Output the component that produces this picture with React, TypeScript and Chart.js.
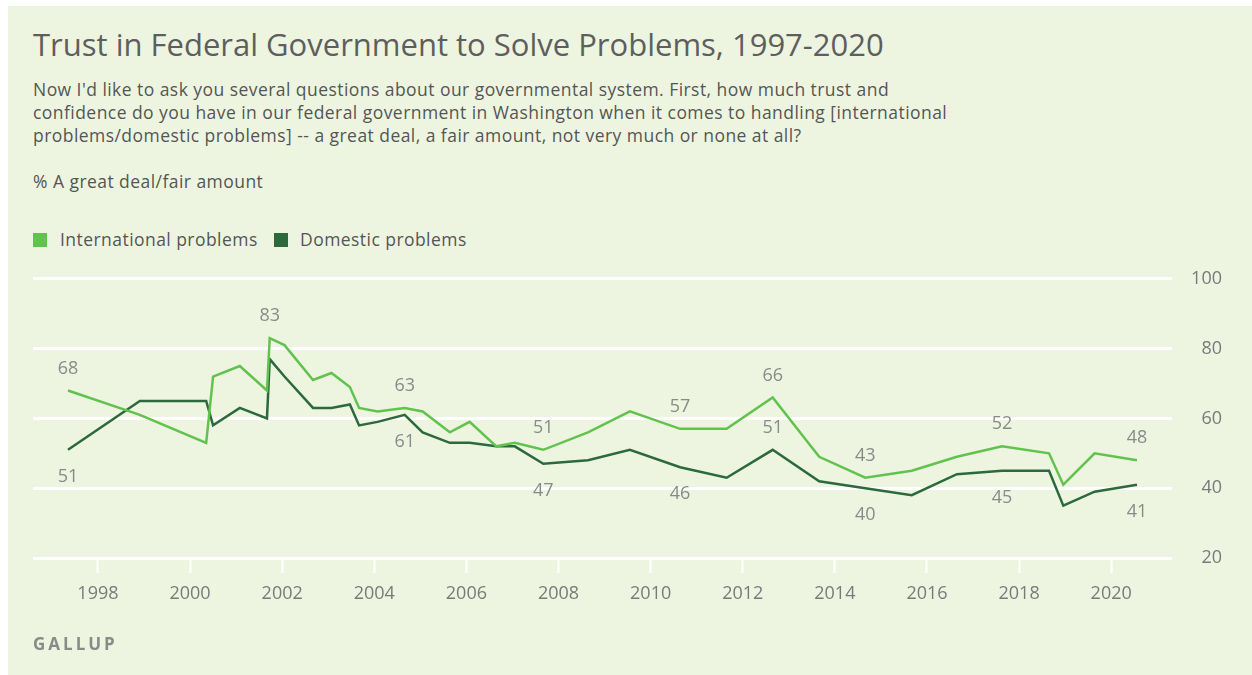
import React, { useEffect, useRef } from "react";
import { Chart, registerables } from "chart.js";

Chart.register(...registerables);

// ---- data ----
const years = [
  1997.35, 1998.91, 2000.35, 2000.5, 2001.08, 2001.67, 2001.73, 2002.05, 2002.67, 2003.07,
  2003.47, 2003.67, 2004.07, 2004.66, 2005.05, 2005.64, 2006.07, 2006.65, 2007.05, 2007.67,
  2008.64, 2009.55, 2010.64, 2011.65, 2012.65, 2013.66, 2014.66, 2015.67, 2016.65, 2017.63,
  2018.65, 2018.96, 2019.64, 2020.56,
];
const international = [
  68, 61, 53, 72, 75, 68, 83, 81, 71, 73, 69, 63, 62, 63, 62, 56, 59, 52, 53, 51, 56, 62, 57,
  57, 66, 49, 43, 45, 49, 52, 50, 41, 50, 48,
];
const domestic = [
  51, 65, 65, 58, 63, 60, 77, 72, 63, 63, 64, 58, 59, 61, 56, 53, 53, 52, 52, 47, 48, 51, 46,
  43, 51, 42, 40, 38, 44, 45, 45, 35, 39, 41,
];
const xTickYears = [1998, 2000, 2002, 2004, 2006, 2008, 2010, 2012, 2014, 2016, 2018, 2020];
const yTicks = [20, 40, 60, 80, 100];
const seriesNames = ["International problems", "Domestic problems"];
// indices of points that carry a value label
const intlLabelIdx = [0, 6, 13, 19, 22, 24, 26, 29, 33];
const domLabelIdx = [0, 13, 19, 22, 24, 26, 29, 33];
const domLabelAboveIdx = [24];

const LIGHT = "#62c24e";
const DARK = "#2c6a3d";
const BG = "#edf5e0";
const FONT = "'Open Sans', 'DejaVu Sans', sans-serif";

const labelPlugin = {
  id: "valueLabels",
  afterDatasetsDraw(chart: any) {
    const ctx = chart.ctx;
    ctx.save();
    ctx.font = `18px ${FONT}`;
    ctx.fillStyle = "#8a8a8a";
    ctx.textAlign = "center";
    ctx.textBaseline = "middle";
    const m0 = chart.getDatasetMeta(0);
    intlLabelIdx.forEach((i) => {
      const p = m0.data[i];
      ctx.fillText(String(international[i]), p.x, p.y - 22);
    });
    const m1 = chart.getDatasetMeta(1);
    domLabelIdx.forEach((i) => {
      const p = m1.data[i];
      const above = domLabelAboveIdx.includes(i);
      ctx.fillText(String(domestic[i]), p.x, above ? p.y - 22 : p.y + 27);
    });
    ctx.restore();
  },
};

export default function App() {
  const ref = useRef<HTMLCanvasElement | null>(null);

  useEffect(() => {
    if (!ref.current) return;
    const chart = new Chart(ref.current, {
      type: "line",
      data: {
        datasets: [
          {
            label: seriesNames[0],
            data: years.map((x, i) => ({ x, y: international[i] })),
            borderColor: LIGHT,
            backgroundColor: LIGHT,
            borderWidth: 2.5,
            pointRadius: 0,
            tension: 0,
          },
          {
            label: seriesNames[1],
            data: years.map((x, i) => ({ x, y: domestic[i] })),
            borderColor: DARK,
            backgroundColor: DARK,
            borderWidth: 2.5,
            pointRadius: 0,
            tension: 0,
          },
        ],
      },
      options: {
        responsive: false,
        animation: false,
        devicePixelRatio: 1,
        layout: { padding: { left: 33, right: 30, top: 0, bottom: 0 } },
        plugins: {
          legend: { display: false },
          tooltip: { enabled: false },
          title: { display: false },
        },
        scales: {
          x: {
            type: "linear",
            min: 1996.59,
            max: 2021.32,
            afterBuildTicks: (axis: any) => {
              axis.ticks = xTickYears.map((v) => ({ value: v }));
            },
            afterFit: (axis: any) => {
              axis.height = 82;
            },
            border: { display: false },
            grid: {
              drawOnChartArea: false,
              drawTicks: true,
              tickLength: 15,
              tickColor: "#ffffff",
              tickWidth: 2,
              color: "#ffffff",
            },
            ticks: {
              padding: 10,
              color: "#7a7a7a",
              font: { family: FONT, size: 18 },
              maxRotation: 0,
              autoSkip: false,
              callback: (v: any) => String(v),
            },
          },
          y: {
            position: "right",
            min: 20,
            max: 100,
            afterBuildTicks: (axis: any) => {
              axis.ticks = yTicks.map((v) => ({ value: v }));
            },
            afterFit: (axis: any) => {
              axis.width = 50;
            },
            border: { display: false },
            grid: {
              color: "#ffffff",
              lineWidth: 3,
              drawTicks: false,
            },
            ticks: {
              padding: 19,
              crossAlign: "far",
              color: "#7a7a7a",
              font: { family: FONT, size: 18 },
            },
          },
        },
      },
      plugins: [labelPlugin],
    } as any);
    return () => chart.destroy();
  }, []);

  const text: React.CSSProperties = {
    position: "absolute",
    fontFamily: FONT,
    whiteSpace: "nowrap",
    margin: 0,
  };
  const body: React.CSSProperties = {
    ...text,
    fontSize: 17.5,
    letterSpacing: "0.45px",
    lineHeight: "23px",
    color: "#555555",
  };

  return (
    <div
      style={{
        position: "absolute",
        left: 0,
        top: 0,
        width: 1252,
        height: 675,
        background: "#ffffff",
        overflow: "hidden",
      }}
    >
      <div
        style={{
          position: "absolute",
          left: 8,
          top: 6,
          width: 1244,
          height: 669,
          background: BG,
        }}
      />
      <div style={{ ...text, left: 33, top: 29, fontSize: 31, lineHeight: "31px", color: "#5e5e5e" }}>
        Trust in Federal Government to Solve Problems, 1997-2020
      </div>
      <div style={{ ...body, left: 33, top: 78 }}>
        Now I'd like to ask you several questions about our governmental system. First, how much trust and
        <br />
        confidence do you have in our federal government in Washington when it comes to handling [international
        <br />
        problems/domestic problems] -- a great deal, a fair amount, not very much or none at all?
      </div>
      <div style={{ ...body, left: 33, top: 170 }}>% A great deal/fair amount</div>
      <div style={{ position: "absolute", left: 33, top: 233, width: 14, height: 14, background: LIGHT }} />
      <div style={{ ...body, left: 60, top: 228 }}>{seriesNames[0]}</div>
      <div style={{ position: "absolute", left: 274, top: 233, width: 14, height: 14, background: DARK }} />
      <div style={{ ...body, left: 300, top: 228 }}>{seriesNames[1]}</div>
      <canvas
        ref={ref}
        width={1252}
        height={391}
        style={{ position: "absolute", left: 0, top: 249, width: 1252, height: 391 }}
      />
      <div
        style={{
          ...text,
          left: 33,
          top: 632,
          fontSize: 17,
          lineHeight: "24px",
          fontWeight: 700,
          letterSpacing: "3px",
          color: "#8a8a8a",
        }}
      >
        GALLUP
      </div>
    </div>
  );
}
